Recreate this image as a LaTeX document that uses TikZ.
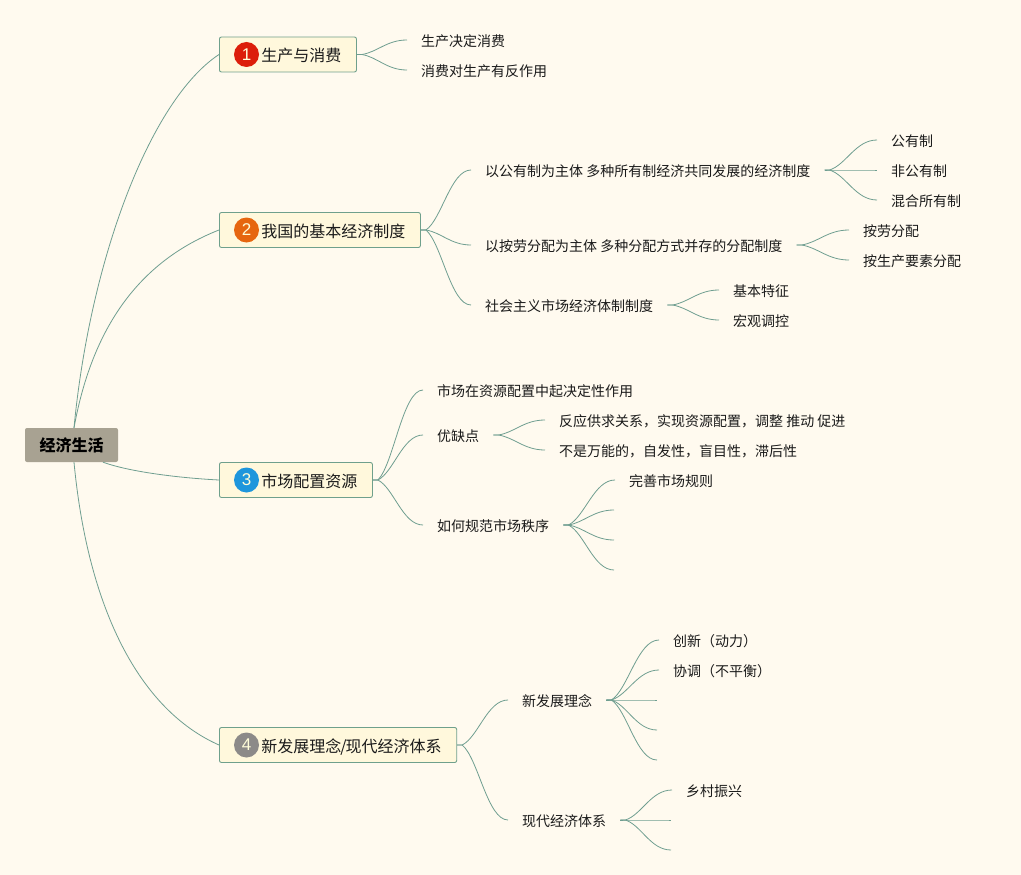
\documentclass[tikz,border=0pt]{standalone}
\usepackage{fontspec}
\usetikzlibrary{calc}
\setmainfont{Noto Sans CJK SC}
\newfontfamily\numfont{Liberation Sans}
\definecolor{bgc}{HTML}{FFFAEF}
\definecolor{boxc}{HTML}{FFF8DC}
\definecolor{linkc}{HTML}{6F9E90}
\definecolor{edgec}{HTML}{6FA08C}
\definecolor{rootc}{HTML}{A8A292}
\definecolor{txtc}{HTML}{1A1A1A}
\definecolor{badgeA}{HTML}{DC1E0A}
\definecolor{badgeB}{HTML}{E6660F}
\definecolor{badgeC}{HTML}{1E96DC}
\definecolor{badgeD}{HTML}{8C8A88}
\tikzset{
  leaf/.style={anchor=west,inner xsep=14pt,inner ysep=0pt,text height=13pt,text depth=0pt,font=\fontsize{14}{14}\selectfont,text=txtc},
  topic/.style={anchor=west,draw=edgec,fill=boxc,line width=.9pt,rounded corners=2pt,inner xsep=15pt,inner ysep=0pt,minimum height=35pt,text height=14.5pt,text depth=0pt,font=\fontsize{16}{16}\selectfont,text=txtc},
  rootbox/.style={fill=rootc,rounded corners=2pt,inner sep=0pt,minimum width=93pt,minimum height=34pt,text height=13.5pt,text depth=0pt,font=\fontsize{16}{16}\selectfont\bfseries,text=black},
  badge/.style={circle,minimum size=25pt,inner sep=0pt,font=\numfont\fontsize{17}{17}\selectfont,text=white!85!yellow},
  link/.style={draw=linkc,line width=.8pt}
}
\newcommand{\lnk}[2]{%
  \path (#1.east) ++(5,0) coordinate (s);
  \draw[link] (#1.east) -- (s) .. controls ($(s)!.35!($(#2.west)!.5!(#2.west |- s)$)$) and ($(s |- #2.west)!.55!(#2.west)$) .. (#2.west);
}
\newcommand{\blank}[2]{\coordinate (#1) at (#2);\coordinate (#1.west) at (#2);}
\begin{document}
\begin{tikzpicture}[x=1pt,y=-1pt]
\useasboundingbox[fill=bgc] (0,0) rectangle (1021,875);
% root and topics
\node[rootbox] (root) at (71.5,445) {经济生活};
\node[topic] (t1) at (219,54.5) {\hspace*{27pt}生产与消费};
\node[topic] (t2) at (219,230) {\hspace*{27pt}我国的基本经济制度};
\node[topic] (t3) at (219,480) {\hspace*{27pt}市场配置资源};
\node[topic] (t4) at (219,745) {\hspace*{27pt}新发展理念\kern-1pt/\kern-1pt现代经济体系};
\node[badge,fill=badgeA] (b1) at (246.5,54.5) {1};
\node[badge,fill=badgeB] (b2) at (246.5,230) {2};
\node[badge,fill=badgeC] (b3) at (246.5,480) {3};
\node[badge,fill=badgeD] (b4) at (246.5,745) {4};
% root connectors
\coordinate (rn) at ($(root.north)+(2.5,0)$);
\coordinate (rs) at ($(root.south)+(2.5,0)$);
\coordinate (rr) at ($(root.south)+(31.5,0)$);
\draw[link] (rn) .. controls (90,260) and (150,100) .. (t1.west);
\draw[link] (rn) .. controls (90,340) and (130,265) .. (t2.west);
\draw[link] (rr) .. controls (130,472) and (180,478) .. (t3.west);
\draw[link] (rs) .. controls (88,610) and (140,710) .. (t4.west);
% topic 1
\node[leaf] (a1) at (407,40) {生产决定消费};
\node[leaf] (a2) at (407,70) {消费对生产有反作用};
\lnk{t1}{a1}\lnk{t1}{a2}
% topic 2
\node[leaf] (c1) at (471,170) {以公有制为主体 多种所有制经济共同发展的经济制度};
\node[leaf] (c2) at (471,245) {以按劳分配为主体 多种分配方式并存的分配制度};
\node[leaf] (c3) at (471,305) {社会主义市场经济体制制度};
\lnk{t2}{c1}\lnk{t2}{c2}\lnk{t2}{c3}
\node[leaf] (c11) at (877,140) {公有制};
\node[leaf] (c12) at (877,170) {非公有制};
\node[leaf] (c13) at (877,200) {混合所有制};
\lnk{c1}{c11}\lnk{c1}{c12}\lnk{c1}{c13}
\node[leaf] (c21) at (849,230) {按劳分配};
\node[leaf] (c22) at (849,260) {按生产要素分配};
\lnk{c2}{c21}\lnk{c2}{c22}
\node[leaf] (c31) at (719,290) {基本特征};
\node[leaf] (c32) at (719,320) {宏观调控};
\lnk{c3}{c31}\lnk{c3}{c32}
% topic 3
\node[leaf] (d1) at (423,390) {市场在资源配置中起决定性作用};
\node[leaf] (d2) at (423,435) {优缺点};
\node[leaf] (d3) at (423,525) {如何规范市场秩序};
\lnk{t3}{d1}\lnk{t3}{d2}\lnk{t3}{d3}
\node[leaf] (d21) at (545,420) {反应供求关系，实现资源配置，调整 推动 促进};
\node[leaf] (d22) at (545,450) {不是万能的，自发性，盲目性，滞后性};
\lnk{d2}{d21}\lnk{d2}{d22}
\node[leaf] (d31) at (615,480) {完善市场规则};
\blank{d32}{614,510}\blank{d33}{614,540}\blank{d34}{614,570}
\lnk{d3}{d31}\lnk{d3}{d32}\lnk{d3}{d33}\lnk{d3}{d34}
% topic 4
\node[leaf] (e1) at (508,700) {新发展理念};
\node[leaf] (e2) at (508,820) {现代经济体系};
\lnk{t4}{e1}\lnk{t4}{e2}
\node[leaf] (e11) at (659,640) {创新（动力）};
\node[leaf] (e12) at (659,670) {协调（不平衡）};
\blank{e13}{657,700}\blank{e14}{657,730}\blank{e15}{657,760}
\lnk{e1}{e11}\lnk{e1}{e12}\lnk{e1}{e13}\lnk{e1}{e14}\lnk{e1}{e15}
\node[leaf] (e21) at (672,790) {乡村振兴};
\blank{e22}{671,820}\blank{e23}{671,850}
\lnk{e2}{e21}\lnk{e2}{e22}\lnk{e2}{e23}
\end{tikzpicture}
\end{document}
